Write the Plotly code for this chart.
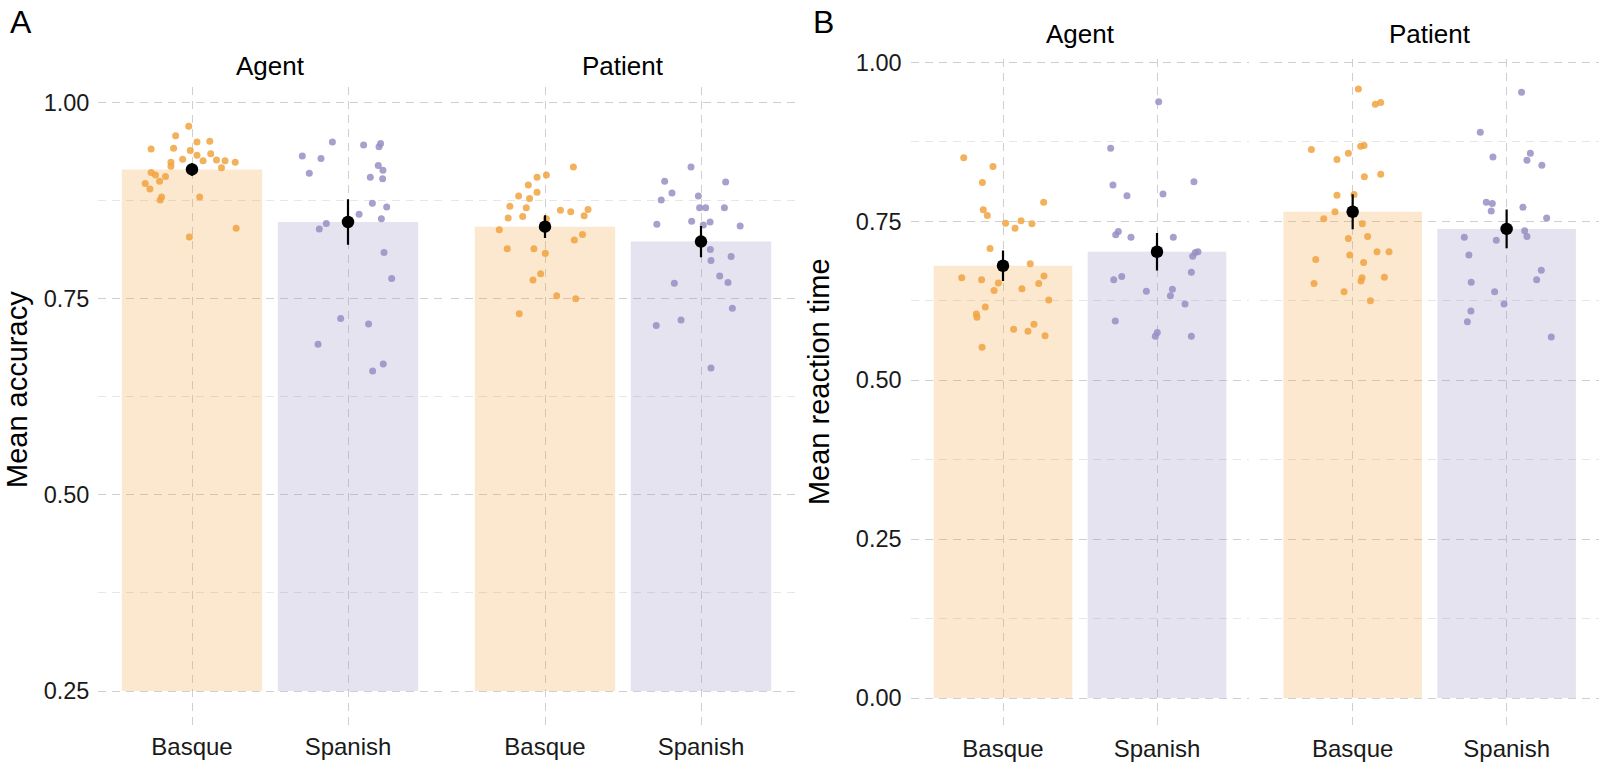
import plotly.graph_objects as go

# ---------------- DATA ----------------
languages = ["Basque", "Spanish"]
roles = ["Agent", "Patient"]

# Panel A: mean accuracy per participant
acc_agent_basque = [0.970, 0.958, 0.950, 0.951, 0.941, 0.942, 0.939, 0.933, 0.935, 0.928,
                    0.926, 0.927, 0.926, 0.924, 0.924, 0.919, 0.917, 0.911, 0.908, 0.906,
                    0.900, 0.897, 0.890, 0.880, 0.880, 0.876, 0.840, 0.829]
acc_agent_basque_jit = [-0.021, -0.105, 0.032, 0.114, -0.262, -0.118, -0.011, 0.032, 0.120, -0.060,
                        0.071, 0.157, 0.212, 0.277, -0.135, -0.135, 0.189, -0.262, -0.234, -0.170,
                        -0.208, -0.300, -0.270, -0.195, 0.049, -0.204, 0.283, -0.017]
acc_agent_spanish = [0.950, 0.932, 0.929, 0.946, 0.944, 0.948, 0.910, 0.920, 0.914, 0.905,
                     0.903, 0.872, 0.858, 0.867, 0.852, 0.846, 0.839, 0.809, 0.776, 0.725,
                     0.718, 0.692, 0.667, 0.658]
acc_agent_spanish_jit = [-0.100, -0.293, -0.173, 0.100, 0.199, 0.209, -0.248, 0.194, 0.224, 0.143,
                         0.222, 0.156, 0.071, 0.248, 0.214, -0.139, -0.184, 0.231, 0.280, -0.047,
                         0.132, -0.192, 0.226, 0.158]
acc_patient_basque = [0.918, 0.908, 0.905, 0.895, 0.881, 0.886, 0.878, 0.868, 0.866, 0.853,
                      0.855, 0.863, 0.861, 0.864, 0.856, 0.852, 0.838, 0.832, 0.825, 0.814,
                      0.814, 0.808, 0.782, 0.774, 0.754, 0.750, 0.731]
acc_patient_basque_jit = [0.182, 0.009, -0.051, -0.107, -0.169, -0.051, -0.099, -0.225, -0.120, -0.236,
                          -0.143, 0.099, 0.165, 0.276, 0.251, 0.009, -0.293, 0.240, 0.188, -0.242,
                          -0.071, 0.002, -0.028, -0.077, 0.075, 0.197, -0.165]
acc_patient_spanish = [0.918, 0.900, 0.899, 0.885, 0.876, 0.881, 0.866, 0.866, 0.866, 0.845,
                       0.849, 0.844, 0.848, 0.843, 0.813, 0.799, 0.804, 0.779, 0.771, 0.770,
                       0.738, 0.723, 0.716, 0.662]
acc_patient_spanish_jit = [-0.064, -0.233, 0.158, -0.186, -0.255, -0.017, -0.009, 0.030, 0.150, -0.283,
                           -0.060, 0.015, 0.058, 0.251, 0.060, 0.064, 0.193, 0.120, 0.173, -0.171,
                           0.201, -0.128, -0.287, 0.064]
acc_means_agent = [0.915, 0.848]
acc_means_patient = [0.842, 0.823]
acc_err_agent = [0.008, 0.029]
acc_err_patient = [0.0145, 0.020]

# Panel B: mean reaction time per participant
rt_agent_basque = [0.850, 0.836, 0.811, 0.780, 0.768, 0.759, 0.747, 0.751, 0.739, 0.746,
                   0.707, 0.683, 0.661, 0.658, 0.653, 0.664, 0.652, 0.641, 0.644, 0.626,
                   0.615, 0.604, 0.599, 0.588, 0.580, 0.577, 0.570, 0.552]
rt_agent_basque_jit = [-0.255, -0.065, -0.134, 0.264, -0.128, -0.102, 0.017, 0.117, 0.078, 0.188,
                       -0.084, 0.177, -0.268, -0.139, -0.030, 0.266, 0.232, -0.058, 0.123, 0.297,
                       -0.115, -0.173, -0.169, 0.201, 0.069, 0.162, 0.273, -0.136]
rt_agent_spanish = [0.938, 0.865, 0.807, 0.812, 0.790, 0.793, 0.734, 0.729, 0.725, 0.725,
                    0.702, 0.701, 0.695, 0.670, 0.663, 0.658, 0.640, 0.643, 0.633, 0.620,
                    0.593, 0.575, 0.569, 0.569]
rt_agent_spanish_jit = [0.011, -0.301, -0.286, 0.240, -0.195, 0.039, -0.251, -0.268, -0.169, 0.106,
                        0.266, 0.249, 0.232, 0.223, -0.229, -0.281, -0.069, 0.100, 0.087, 0.182,
                        -0.271, 0.002, -0.011, 0.223]
rt_patient_basque = [0.958, 0.934, 0.937, 0.863, 0.868, 0.869, 0.857, 0.847, 0.820, 0.824,
                     0.791, 0.792, 0.765, 0.754, 0.746, 0.723, 0.726, 0.702, 0.702, 0.697,
                     0.690, 0.685, 0.661, 0.656, 0.662, 0.652, 0.639, 0.625]
rt_patient_basque_jit = [0.037, 0.147, 0.182, -0.268, 0.052, 0.074, -0.028, -0.102, 0.076, 0.182,
                         -0.102, 0.009, -0.115, -0.188, 0.063, -0.028, 0.097, 0.158, 0.236, -0.019,
                         -0.240, 0.071, 0.061, 0.054, 0.206, -0.251, -0.056, 0.115]
rt_patient_spanish = [0.953, 0.890, 0.851, 0.857, 0.846, 0.838, 0.780, 0.778, 0.766, 0.772,
                      0.755, 0.735, 0.726, 0.725, 0.720, 0.697, 0.673, 0.658, 0.654, 0.639,
                      0.620, 0.609, 0.592, 0.568]
rt_patient_spanish_jit = [0.097, -0.171, -0.089, 0.154, 0.132, 0.229, -0.132, -0.093, -0.100, 0.106,
                          0.260, 0.117, 0.132, -0.275, -0.067, -0.245, 0.225, 0.195, -0.230, -0.078,
                          -0.017, -0.232, -0.255, 0.290]
rt_means_agent = [0.680, 0.702]
rt_means_patient = [0.765, 0.738]
rt_err_agent = [0.024, 0.0295]
rt_err_patient = [0.0275, 0.0305]

# ---------------- STYLE ----------------
W, H = 1600, 769
FONT = "Liberation Sans, Arial, Helvetica, sans-serif"
bar_colors = ["rgba(241,163,64,0.25)", "rgba(153,142,195,0.25)"]
dot_colors = ["rgba(241,163,64,0.85)", "rgba(153,142,195,0.85)"]
GRID = "#cfcfcf"
MINOR = "#e6e6e6"


def px(xp):
    return xp / W


def py(yp):
    return 1 - yp / H


fig = go.Figure()

panels = [
    ("x", "y", acc_means_agent, acc_err_agent,
     [acc_agent_basque, acc_agent_spanish], [acc_agent_basque_jit, acc_agent_spanish_jit], 0.25),
    ("x2", "y", acc_means_patient, acc_err_patient,
     [acc_patient_basque, acc_patient_spanish], [acc_patient_basque_jit, acc_patient_spanish_jit], 0.25),
    ("x3", "y2", rt_means_agent, rt_err_agent,
     [rt_agent_basque, rt_agent_spanish], [rt_agent_basque_jit, rt_agent_spanish_jit], 0.0),
    ("x4", "y2", rt_means_patient, rt_err_patient,
     [rt_patient_basque, rt_patient_spanish], [rt_patient_basque_jit, rt_patient_spanish_jit], 0.0),
]

for xa, ya, means, errs, dots, jits, base in panels:
    for i in range(2):
        fig.add_trace(go.Bar(
            x=[i], y=[means[i] - base], base=[base], width=0.9,
            marker=dict(color=bar_colors[i], line=dict(width=0)),
            xaxis=xa, yaxis=ya, showlegend=False, hoverinfo="skip"))
    for i in range(2):
        fig.add_trace(go.Scatter(
            x=[i + j for j in jits[i]], y=dots[i], mode="markers",
            marker=dict(size=7, color=dot_colors[i], line=dict(width=0)),
            xaxis=xa, yaxis=ya, showlegend=False, hoverinfo="skip"))
    fig.add_trace(go.Scatter(
        x=[0, 1], y=means, mode="markers",
        marker=dict(size=12.5, color="black"),
        error_y=dict(type="data", array=errs, visible=True, color="black",
                     thickness=2.2, width=0),
        xaxis=xa, yaxis=ya, showlegend=False, hoverinfo="skip"))

# axis domains (pixel-based)
xdoms = [(98.4, 441.6), (451.4, 794.6), (910.6, 1249.4), (1260.3, 1599.0)]
ydomA = (78, 728)
ydomB = (50, 730)

common_x = dict(range=[-0.6, 1.6], tickvals=[0, 1], ticktext=languages,
                showgrid=True, gridcolor=GRID, griddash="8px,6px", gridwidth=1,
                zeroline=False, showline=False, ticks="", fixedrange=True,
                tickfont=dict(family=FONT, size=24, color="#1a1a1a"),
                ticklabelstandoff=1)
layout_axes = {}
names = ["xaxis", "xaxis2", "xaxis3", "xaxis4"]
anchors = ["y", "y", "y2", "y2"]
for n, (a, b), anc in zip(names, xdoms, anchors):
    d = dict(common_x)
    d.update(domain=[px(a), px(b)], anchor=anc)
    layout_axes[n] = d

common_y = dict(showgrid=True, gridcolor=GRID, griddash="8px,6px", gridwidth=1,
                zeroline=False, showline=False, ticks="", fixedrange=True,
                tickformat=".2f", tickfont=dict(family=FONT, size=23.5, color="#1a1a1a"),
                ticklabelstandoff=8,
                minor=dict(showgrid=True, gridcolor=MINOR, griddash="8px,6px", gridwidth=1))
ya = dict(common_y)
ya.update(domain=[py(ydomA[1]), py(ydomA[0])], range=[0.2022, 1.0201], anchor="x",
          tickvals=[0.25, 0.5, 0.75, 1.0])
ya["minor"] = dict(common_y["minor"], tickvals=[0.375, 0.625, 0.875])
yb = dict(common_y)
yb.update(domain=[py(ydomB[1]), py(ydomB[0])], range=[-0.051, 1.0047], anchor="x3",
          tickvals=[0, 0.25, 0.5, 0.75, 1.0])
yb["minor"] = dict(common_y["minor"], tickvals=[0.125, 0.375, 0.625, 0.875])
layout_axes["yaxis"] = ya
layout_axes["yaxis2"] = yb

annotations = []


def ann(text, x, y, size, angle=0):
    annotations.append(dict(text=text, x=px(x), y=py(y), xref="paper", yref="paper",
                            showarrow=False, textangle=angle, xanchor="center", yanchor="middle",
                            font=dict(family=FONT, size=size, color="black")))


ann("A", 21, 12, 32)
ann("B", 823, 12, 32)
ann(roles[0], (xdoms[0][0] + xdoms[0][1]) / 2, 57, 26)
ann(roles[1], (xdoms[1][0] + xdoms[1][1]) / 2, 57, 26)
ann(roles[0], (xdoms[2][0] + xdoms[2][1]) / 2, 24, 26)
ann(roles[1], (xdoms[3][0] + xdoms[3][1]) / 2, 24, 26)
ann("Mean accuracy", 17, 385, 29, -90)
ann("Mean reaction time", 819, 377, 29, -90)

fig.update_layout(
    width=W, height=H,
    margin=dict(l=0, r=0, t=0, b=0),
    paper_bgcolor="white", plot_bgcolor="white",
    barmode="overlay",
    annotations=annotations,
    **layout_axes,
)

fig.write_html("out.html")
